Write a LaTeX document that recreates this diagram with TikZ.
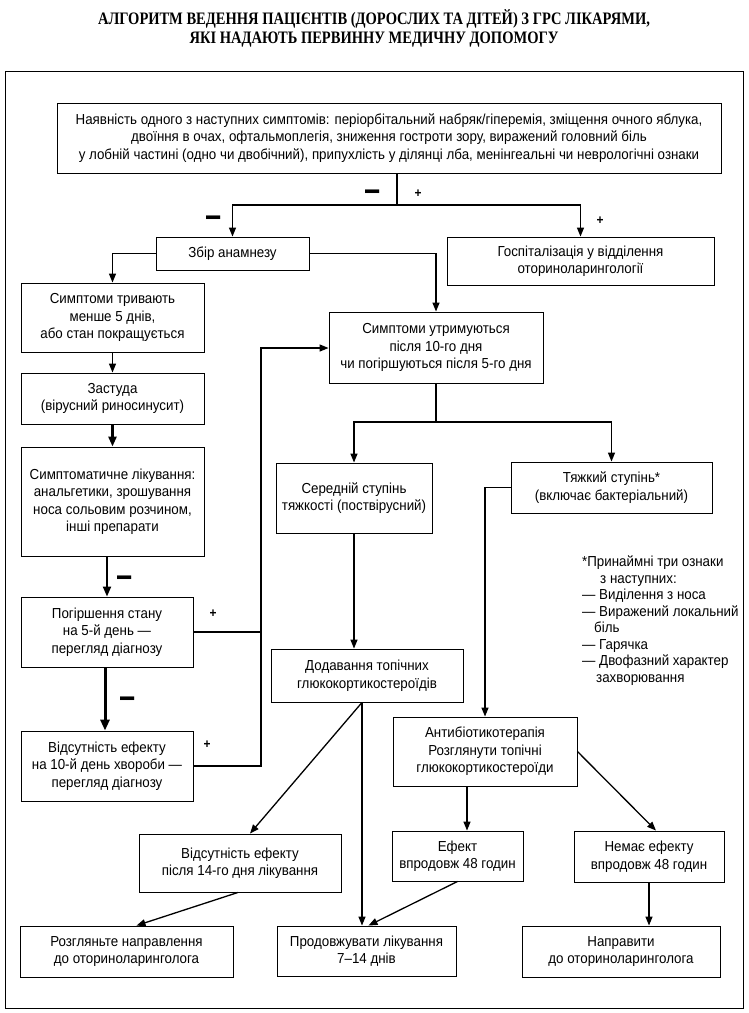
\documentclass[tikz,border=0pt]{standalone}
\usepackage{fontspec}
\setmainfont{Liberation Sans}[FakeStretch=0.92]
\newfontfamily\titlefont{Liberation Serif}[FakeStretch=0.83]
\usetikzlibrary{arrows.meta,calc}
\tikzset{
  box/.style={draw, line width=0.9pt, inner sep=0pt, align=center,
    font=\fontsize{14.5}{17.5}\selectfont},
  ln/.style={line width=1.3pt},
  arr/.style={line width=1.3pt, -{Triangle[length=9pt,width=7pt]}},
  thickarr/.style={line width=2.6pt, -{Triangle[length=10pt,width=8pt]}},
  minus/.style={inner sep=0pt, font=\fontsize{14}{14}\bfseries\selectfont},
  plus/.style={inner sep=0pt, font=\fontsize{13}{13}\bfseries\selectfont},
  titletext/.style={inner sep=0pt, font=\titlefont\bfseries\fontsize{17.5}{19}\selectfont},
}
\newcommand\bx[6]{%
  \pgfmathsetmacro\bxw{#4-#2}\pgfmathsetmacro\bxh{#5-#3}%
  \pgfmathsetmacro\bxcx{(#2+#4)/2}\pgfmathsetmacro\bxcy{(#3+#5)/2}%
  \node[box, minimum width=\bxw pt, minimum height=\bxh pt] (#1) at (\bxcx,\bxcy) {#6};}
\newcommand\mydash{\scalebox{1.1}[2.6]{—}}
\begin{document}
\begin{tikzpicture}[x=1pt,y=-1pt]
\useasboundingbox (0,0) rectangle (749,1013);
\draw[line width=1pt] (5,71) rectangle (743,1008);
\node[titletext] (t1) at (374,19) {АЛГОРИТМ ВЕДЕННЯ ПАЦІЄНТІВ (ДОРОСЛИХ ТА ДІТЕЙ) З ГРС ЛІКАРЯМИ,};
\node[titletext] (t2) at (374,40) {ЯКІ НАДАЮТЬ ПЕРВИННУ МЕДИЧНУ ДОПОМОГУ};

\bx{top}{57}{103}{721}{173}{Наявність одного з наступних симптомів: періорбітальний набряк/гіперемія, зміщення очного яблука,\\ двоїння в очах, офтальмоплегія, зниження гостроти зору, виражений головний біль\\ у лобній частині (одно чи двобічний), припухлість у ділянці лба, менінгеальні чи неврологічні ознаки}
\bx{zbir}{156}{237}{309}{270}{Збір анамнезу}
\bx{hosp}{447}{237}{714}{285}{Госпіталізація у відділення\\оториноларингології}
\bx{symt}{21}{283}{204}{352}{Симптоми тривають\\менше 5 днів,\\або стан покращується}
\bx{zast}{21}{373}{204}{424}{Застуда\\(вірусний риносинусит)}
\bx{likuv}{21}{447}{204}{556}{Симптоматичне лікування:\\анальгетики, зрошування\\носа сольовим розчином,\\інші препарати}
\bx{pogir}{21}{597}{193}{667}{Погіршення стану\\на 5-й день —\\перегляд діагнозу}
\bx{vids10}{21}{731}{193}{801}{Відсутність ефекту\\на 10-й день хвороби —\\перегляд діагнозу}
\bx{ut}{329}{312}{543}{383}{Симптоми утримуються\\після 10-го дня\\чи погіршуються після 5-го дня}
\bx{ser}{276}{463}{432}{533}{Середній ступінь\\тяжкості (поствірусний)}
\bx{tyazh}{511}{462}{712}{513}{Тяжкий ступінь*\\(включає бактеріальний)}
\bx{dod}{271}{649}{463}{702}{Додавання топічних\\глюкокортикостероїдів}
\bx{abt}{393}{717}{577}{786}{Антибіотикотерапія\\Розглянути топічні\\глюкокортикостероїди}
\bx{v14}{139}{834}{341}{892}{Відсутність ефекту\\після 14-го дня лікування}
\bx{efekt}{392}{831}{523}{881}{Ефект\\впродовж 48 годин}
\bx{nemaye}{574}{831}{724}{882}{Немає ефекту\\впродовж 48 годин}
\bx{rozg}{20}{926}{233}{977}{Розгляньте направлення\\до оториноларинголога}
\bx{prod}{277}{926}{456}{976}{Продовжувати лікування\\7–14 днів}
\bx{napr}{522}{926}{720}{977}{Направити\\до оториноларинголога}

\node[anchor=north west, inner sep=0pt, align=left, font=\fontsize{14.5}{16.5}\selectfont] (foot) at (582,556)
 {*Принаймні три ознаки\\\hspace*{18pt}з наступних:\\— Виділення з носа\\— Виражений локальний\\\hspace*{12pt}біль\\— Гарячка\\— Двофазний характер\\\hspace*{14pt}захворювання};

% top split
\coordinate (j0) at (397,205);
\draw[ln] (top.south -| j0) -- (j0);
\draw[arr] (j0) -| (zbir);
\draw[arr] (j0) -| (hosp);
\node[minus] (m1) at (373,196) {\mydash};
\node[plus] (p1) at (418,194) {+};
\node[minus] (m2) at (214,222) {\mydash};
\node[plus] (p2) at (600,221) {+};

% from anamnesis
\draw[arr] (zbir.west) -| (symt);
\draw[arr] (zbir.east) -| (ut);

% left column
\draw[arr] (symt) -- (zast);
\draw[thickarr] (zast) -- (likuv);
\draw[line width=2pt, -{Triangle[length=10pt,width=8pt]}] (likuv.south -| pogir) -- (pogir);
\draw[line width=3pt, -{Triangle[length=11pt,width=9pt]}] ([xshift=-2pt]pogir.south) -- ([xshift=-2pt]vids10.north);
\node[minus] (m3) at (125,582) {\mydash};
\node[minus] (m4) at (128,703) {\mydash};
\node[plus] (p3) at (213,614) {+};
\node[plus] (p4) at (207,745) {+};

% loop back
\coordinate (lp) at (261,348);
\draw[ln] (pogir.east) -- (pogir.east -| lp);
\draw[arr] (vids10.east) -| (lp) -- (lp -| ut.west);

% severity split
\coordinate (j1) at (437,422);
\draw[ln] (ut.south) -- (ut.south |- j1);
\draw[arr] (ut.south |- j1) -| (ser);
\draw[arr] (ut.south |- j1) -| (tyazh);

\draw[arr] (ser.south) -- (ser.south |- dod.north);
\draw[arr] (tyazh.west) -| (abt);

% after topical steroids
\coordinate (d1) at ([xshift=-5pt]dod.south);
\draw[arr] (d1) -- ([xshift=10pt]v14.north);
\draw[arr] (d1) -- (d1 |- prod.north);

% after antibiotics
\draw[arr] ([xshift=-18pt]abt.south) -- ([xshift=-18pt]abt.south |- efekt.north);
\draw[arr] (abt.east) -- ([xshift=7pt]nemaye.north);

% bottom row
\draw[arr] ([xshift=-2pt]v14.south) -- ([xshift=10pt]rozg.north);
\draw[arr] (efekt.south) -- ([xshift=2pt]prod.north);
\draw[arr] (nemaye.south) -- (nemaye.south |- napr.north);
\end{tikzpicture}
\end{document}
